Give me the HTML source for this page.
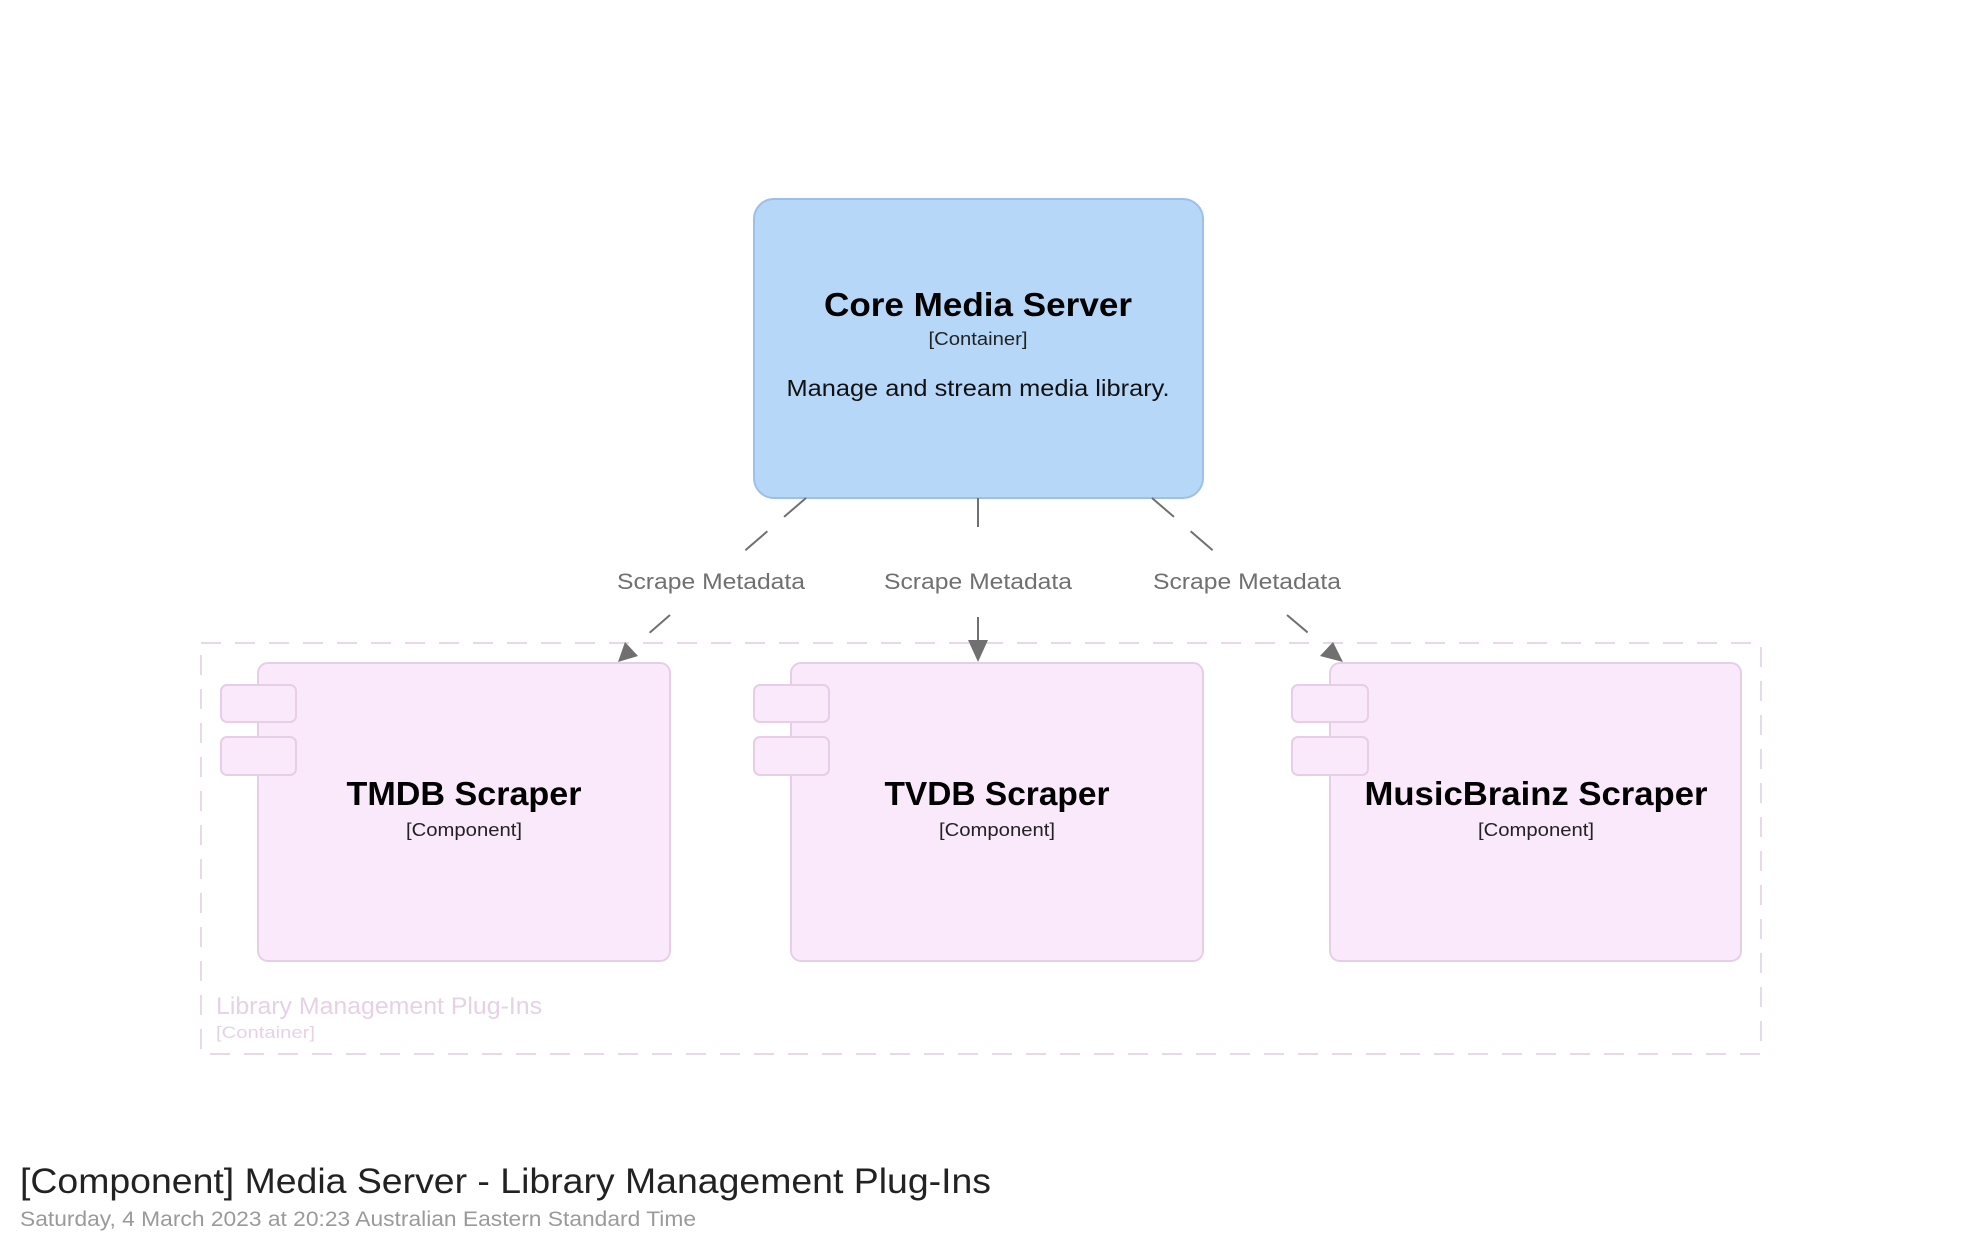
<!DOCTYPE html>
<html><head><meta charset="utf-8"><style>
html,body{margin:0;padding:0;background:#fff;}
svg{display:block;}
text{font-family:"Liberation Sans",sans-serif;}
</style></head><body>
<svg width="1964" height="1257" viewBox="0 0 1964 1257" xmlns="http://www.w3.org/2000/svg">
<g transform="translate(2,0)">
<!-- boundary -->
<rect x="199" y="643" width="1560" height="411" fill="none" stroke="#e8d8e8" stroke-width="2" stroke-dasharray="20 14"/>
<text x="214" y="1014" font-size="24" fill="#e6d2e6" textLength="326" lengthAdjust="spacingAndGlyphs">Library Management Plug-Ins</text>
<text x="214" y="1038" font-size="17" fill="#e6d2e6" textLength="99" lengthAdjust="spacingAndGlyphs">[Container]</text>

<!-- core -->
<rect x="752" y="199" width="449" height="299" rx="20" fill="#b6d7f8" stroke="#9cc0e8" stroke-width="2"/>
<text x="976" y="316" font-size="33" font-weight="bold" text-anchor="middle" fill="#000" textLength="308" lengthAdjust="spacingAndGlyphs">Core Media Server</text>
<text x="976" y="345" font-size="18" text-anchor="middle" fill="#222" textLength="99" lengthAdjust="spacingAndGlyphs">[Container]</text>
<text x="976" y="396" font-size="23" text-anchor="middle" fill="#111" textLength="383" lengthAdjust="spacingAndGlyphs">Manage and stream media library.</text>

<!-- components -->
<g fill="#fae9fa" stroke="#e6cfe6" stroke-width="2">
<rect x="256" y="663" width="412" height="298" rx="10"/>
<rect x="219" y="685" width="75" height="37" rx="6"/>
<rect x="219" y="737" width="75" height="38" rx="6"/>
<rect x="789" y="663" width="412" height="298" rx="10"/>
<rect x="752" y="685" width="75" height="37" rx="6"/>
<rect x="752" y="737" width="75" height="38" rx="6"/>
<rect x="1328" y="663" width="411" height="298" rx="10"/>
<rect x="1290" y="685" width="76" height="37" rx="6"/>
<rect x="1290" y="737" width="76" height="38" rx="6"/>
</g>
<g font-size="33" font-weight="bold" text-anchor="middle" fill="#000">
<text x="462" y="805" textLength="235" lengthAdjust="spacingAndGlyphs">TMDB Scraper</text>
<text x="995" y="805" textLength="225" lengthAdjust="spacingAndGlyphs">TVDB Scraper</text>
<text x="1534" y="805" textLength="343" lengthAdjust="spacingAndGlyphs">MusicBrainz Scraper</text>
</g>
<g font-size="18" text-anchor="middle" fill="#222">
<text x="462" y="836" textLength="116" lengthAdjust="spacingAndGlyphs">[Component]</text>
<text x="995" y="836" textLength="116" lengthAdjust="spacingAndGlyphs">[Component]</text>
<text x="1534" y="836" textLength="116" lengthAdjust="spacingAndGlyphs">[Component]</text>
</g>

<!-- connectors -->
<g stroke="#707070" stroke-width="2" fill="none">
<line x1="804" y1="498" x2="739" y2="554" stroke-dasharray="29 22"/>
<line x1="668" y1="615" x2="630" y2="648" stroke-dasharray="27 50"/>
<line x1="976" y1="498" x2="976" y2="527"/>
<line x1="976" y1="617" x2="976" y2="642"/>
<line x1="1150" y1="498" x2="1215" y2="554" stroke-dasharray="29 22"/>
<line x1="1285" y1="615" x2="1324" y2="648" stroke-dasharray="27 50"/>
</g>
<g fill="#707070">
<polygon points="616,662 623,642 636,656"/>
<polygon points="976,662 966,640 986,640"/>
<polygon points="1341,662 1318,656 1331,642"/>
</g>
<g font-size="22" text-anchor="middle" fill="#707070">
<text x="709" y="589" textLength="188" lengthAdjust="spacingAndGlyphs">Scrape Metadata</text>
<text x="976" y="589" textLength="188" lengthAdjust="spacingAndGlyphs">Scrape Metadata</text>
<text x="1245" y="589" textLength="188" lengthAdjust="spacingAndGlyphs">Scrape Metadata</text>
</g>
</g>
<!-- title -->
<text x="20" y="1193" font-size="35" fill="#222" textLength="971" lengthAdjust="spacingAndGlyphs">[Component] Media Server - Library Management Plug-Ins</text>
<text x="20" y="1226" font-size="21" fill="#9a9a9a" textLength="676" lengthAdjust="spacingAndGlyphs">Saturday, 4 March 2023 at 20:23 Australian Eastern Standard Time</text>
</svg>
</body></html>
